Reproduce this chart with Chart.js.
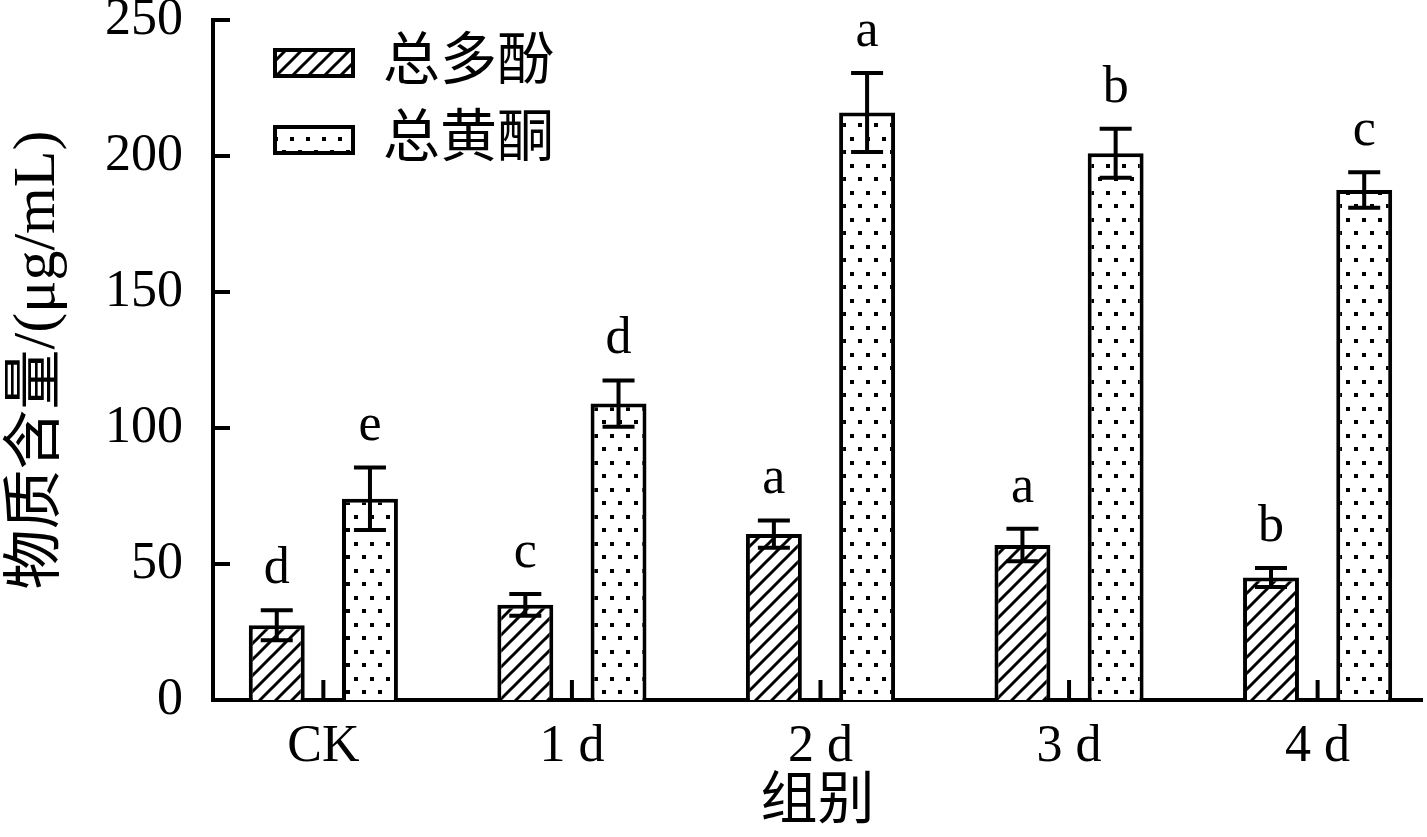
<!DOCTYPE html>
<html>
<head>
<meta charset="utf-8">
<script src="https://cdn.jsdelivr.net/npm/chart.js@4"></script>
<style>
  body { margin: 0; background: #fff; }
  #wrap { width: 1427px; height: 837px; }
</style>
</head>
<body>
<div id="wrap"><canvas id="chart"></canvas></div>
<script>
// data
const categories = ['CK', '1 d', '2 d', '3 d', '4 d'];
const polyphenol = [27.5, 35, 61, 57, 45];
const polyErr = [5.5, 4, 5, 6, 3.5];
const flavonoid = [74, 109, 216, 201, 187.5];
const flavErr = [11.5, 8.5, 14.5, 9, 6.5];
const polyLetters = ['d', 'c', 'a', 'a', 'b'];
const flavLetters = ['e', 'd', 'a', 'b', 'c'];
const yTicks = [0, 50, 100, 150, 200, 250];

const FONT = "'Liberation Serif', 'Noto Sans CJK SC', serif";
const FS = 52;
const CJK_FS = 57;

// fill patterns
function hatchPattern() {
    const c = document.createElement('canvas');
    c.width = 16; c.height = 16;
    const g = c.getContext('2d');
    g.fillStyle = '#fff'; g.fillRect(0, 0, 16, 16);
    g.strokeStyle = '#000'; g.lineWidth = 3;
    g.beginPath();
    g.moveTo(-4, 20); g.lineTo(20, -4);
    g.moveTo(-12, 12); g.lineTo(12, -12);
    g.moveTo(4, 28); g.lineTo(28, 4);
    g.stroke();
    return g.createPattern(c, 'repeat');
}
function dotPattern() {
    const c = document.createElement('canvas');
    c.width = 16; c.height = 27;
    const g = c.getContext('2d');
    g.fillStyle = '#fff'; g.fillRect(0, 0, 16, 27);
    g.fillStyle = '#000';
    g.fillRect(2, 2, 4, 4);
    g.fillRect(10, 15, 4, 4);
    return g.createPattern(c, 'repeat');
}
const ctx0 = document.getElementById('chart').getContext('2d');
const hatch = hatchPattern();
const dots = dotPattern();

// error bars, letters, inward ticks, legend
const extras = {
    id: 'extras',
    afterDatasetsDraw(chart) {
        const ctx = chart.ctx;
        const y = chart.scales.y;
        const sets = [[0, polyphenol, polyErr, polyLetters], [1, flavonoid, flavErr, flavLetters]];
        ctx.save();
        ctx.strokeStyle = '#000';
        ctx.lineWidth = 4;
        ctx.fillStyle = '#000';
        ctx.font = FS + 'px ' + FONT;
        ctx.textAlign = 'center';
        ctx.textBaseline = 'alphabetic';
        sets.forEach(([di, vals, errs, letters]) => {
            chart.getDatasetMeta(di).data.forEach((bar, i) => {
                const x = bar.x;
                const yt = y.getPixelForValue(vals[i] + errs[i]);
                const yb = y.getPixelForValue(vals[i] - errs[i]);
                ctx.beginPath();
                ctx.moveTo(x, yt); ctx.lineTo(x, yb);
                ctx.moveTo(x - 16, yt); ctx.lineTo(x + 16, yt);
                ctx.moveTo(x - 16, yb); ctx.lineTo(x + 16, yb);
                ctx.stroke();
                ctx.fillText(letters[i], x, yt - 27);
            });
        });
        ctx.restore();
    },
    afterDraw(chart) {
        const ctx = chart.ctx;
        const area = chart.chartArea;
        const x = chart.scales.x, y = chart.scales.y;
        ctx.save();
        ctx.strokeStyle = '#000';
        ctx.lineWidth = 4;
        ctx.beginPath();
        y.ticks.forEach(t => {
            const py = y.getPixelForValue(t.value);
            ctx.moveTo(area.left, py); ctx.lineTo(area.left + 17, py);
        });
        x.ticks.forEach(t => {
            const px = x.getPixelForValue(t.value);
            ctx.moveTo(px, area.bottom); ctx.lineTo(px, area.bottom - 20);
        });
        ctx.stroke();

        // legend
        const items = [['总多酚', hatch], ['总黄酮', dots]];
        ctx.font = CJK_FS + 'px ' + FONT;
        ctx.textAlign = 'left';
        ctx.textBaseline = 'middle';
        items.forEach(([label, fill], i) => {
            const bx = 275, by = 50 + i * 77;
            ctx.fillStyle = fill;
            ctx.fillRect(bx, by, 78, 26);
            ctx.strokeRect(bx, by, 78, 26);
            ctx.fillStyle = '#000';
            ctx.fillText(label, 383, by + 14);
        });
        ctx.restore();
    }
};

new Chart(ctx0, {
    type: 'bar',
    data: {
        datasets: [{
            label: '总多酚',
            data: polyphenol.map((v, i) => ({ x: i, y: v })),
            backgroundColor: hatch,
            borderColor: '#000',
            borderWidth: 4
        }, {
            label: '总黄酮',
            data: flavonoid.map((v, i) => ({ x: i, y: v })),
            backgroundColor: dots,
            borderColor: '#000',
            borderWidth: 4
        }]
    },
    options: {
        responsive: true,
        maintainAspectRatio: false,
        devicePixelRatio: 1,
        animation: false,
        categoryPercentage: 0.75,
        barPercentage: 0.6,
        layout: { padding: { left: 2, right: 5, top: 20, bottom: 0 } },
        plugins: {
            legend: { display: false },
            tooltip: { enabled: false }
        },
        scales: {
            x: {
                type: 'linear',
                offset: false,
                min: -0.444,
                max: 4.42,
                afterBuildTicks: s => { s.ticks = categories.map((c, i) => ({ value: i })); },
                afterFit: s => { s.height = 137; s.paddingLeft = 0; s.paddingRight = 0; },
                grid: { display: false, offset: false },
                border: { display: true, color: '#000', width: 4 },
                ticks: {
                    color: '#000',
                    padding: 8,
                    font: { family: FONT, size: FS },
                    callback: v => categories[v]
                },
                title: {
                    display: true,
                    text: '组别',
                    color: '#000',
                    padding: { top: 0, bottom: 0 },
                    font: { family: FONT, size: CJK_FS }
                }
            },
            y: {
                min: 0,
                max: 250,
                afterBuildTicks: s => { s.ticks = yTicks.map(v => ({ value: v })); },
                afterFit: s => { s.width = 211; s.paddingTop = 0; s.paddingBottom = 0; },
                grid: { display: false },
                border: { display: true, color: '#000', width: 4 },
                ticks: {
                    color: '#000',
                    padding: 22,
                    font: { family: FONT, size: FS }
                },
                title: {
                    display: true,
                    text: '物质含量/(μg/mL)',
                    color: '#000',
                    padding: { top: 0, bottom: 0 },
                    font: { family: FONT, size: 60 }
                }
            }
        }
    },
    plugins: [extras]
});
</script>
</body>
</html>
